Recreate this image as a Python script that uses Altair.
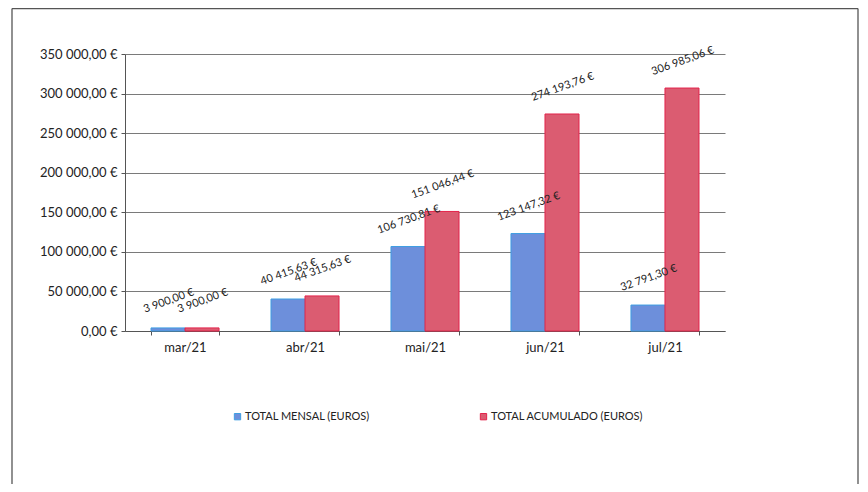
import altair as alt
import pandas as pd

months = ["mar/21", "abr/21", "mai/21", "jun/21", "jul/21"]
mensal = [3900.00, 40415.63, 106730.81, 123147.32, 32791.30]
acumulado = [3900.00, 44315.63, 151046.44, 274193.76, 306985.06]
series = ["TOTAL MENSAL (EUROS)", "TOTAL ACUMULADO (EUROS)"]
y_ticks = [0, 50000, 100000, 150000, 200000, 250000, 300000, 350000]

fills = ["#6d8fdb", "#db5c71"]
strokes = ["#3f9ee2", "#e3234b"]

rows = []
for i, m in enumerate(months):
    rows.append({"mes": m, "serie": series[0], "valor": mensal[i]})
    rows.append({"mes": m, "serie": series[1], "valor": acumulado[i]})
df = pd.DataFrame(rows)

FONT = "Lato"

x = alt.X("mes:N", sort=months,
          scale=alt.Scale(paddingInner=0.433, paddingOuter=0.2167),
          axis=alt.Axis(title=None, labelAngle=0, labelFont=FONT, labelFontSize=13,
                        labelColor="#222", labelPadding=6, tickBand="extent",
                        tickSize=4, tickColor="#555", domainColor="#555"))
xo = alt.XOffset("serie:N", sort=series,
                 scale=alt.Scale(paddingInner=0, paddingOuter=0))
y = alt.Y("valor:Q", scale=alt.Scale(domain=[0, 350000], nice=False),
          axis=alt.Axis(values=y_ticks, format="$,.2f", title=None,
                        labelFont=FONT, labelFontSize=13, labelColor="#222",
                        labelPadding=4, tickSize=4, tickColor="#555",
                        domainColor="#555", grid=True, gridColor="#7a7a7a",
                        gridWidth=1))

bars = alt.Chart(df).mark_bar(strokeWidth=1).encode(
    x=x, xOffset=xo, y=y,
    color=alt.Color("serie:N", sort=series,
                    scale=alt.Scale(domain=series, range=fills),
                    legend=alt.Legend(title=None, orient="none", legendX=107,
                                      legendY=357, direction="horizontal",
                                      columnPadding=108, symbolType="square",
                                      symbolSize=40, symbolStrokeWidth=1,
                                      labelFont=FONT, labelFontSize=11,
                                      labelColor="#222", labelOffset=2,
                                      padding=0)),
    stroke=alt.Stroke("serie:N", sort=series,
                      scale=alt.Scale(domain=series, range=strokes),
                      legend=None),
)

labels = alt.Chart(df).mark_text(angle=340, align="center", baseline="middle",
                                 dx=10, dy=-25, font=FONT, fontSize=11,
                                 color="#222").encode(
    x=x, xOffset=xo, y=y,
    text=alt.Text("valor:Q", format="$,.2f"),
)

fdata = pd.DataFrame({"k": [0]})
frame_left = alt.Chart(fdata).mark_rule(color="#555", strokeWidth=1.3).encode(
    x=alt.value(-113), y=alt.value(-45.5), y2=alt.value(430))
frame_right = alt.Chart(fdata).mark_rule(color="#555", strokeWidth=1.3).encode(
    x=alt.value(733), y=alt.value(-45.5), y2=alt.value(430))
frame_top = alt.Chart(fdata).mark_rule(color="#555", strokeWidth=1.3).encode(
    x=alt.value(-113), x2=alt.value(733), y=alt.value(-45.5))

chart = alt.layer(bars, labels, frame_left, frame_right, frame_top).properties(
    width=600, height=277,
    padding={"left": 117, "top": 46, "right": 135, "bottom": 153},
    autosize=alt.AutoSizeParams(type="none"),
    background="white",
).configure(
    locale={"number": {"decimal": ",", "thousands": " ", "grouping": [3],
                       "currency": ["", " €"]}}
).configure_view(stroke=None)

chart.save("out.html", embed_options={"renderer": "svg", "actions": False})
